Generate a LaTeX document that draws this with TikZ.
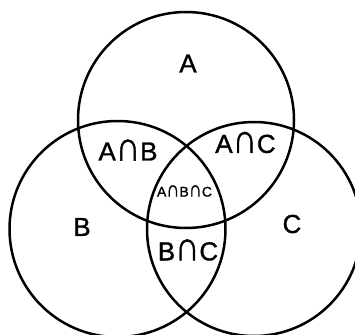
\documentclass[tikz,border=0pt]{standalone}
\usepackage{fontspec}
\setmainfont{Liberation Sans}
\newfontfamily\lblfont[FakeBold=1.2]{Liberation Sans}
\newcommand\vcap{\scalebox{1.3}[1.6]{∩}}
\begin{document}
\begin{tikzpicture}[x=1pt,y=-1pt,
  ring/.style={draw=black,line width=2.5pt},
  big/.style={font=\lblfont\fontsize{26}{26}\selectfont,inner sep=0pt},
  small/.style={font=\lblfont\fontsize{14}{14}\selectfont,inner sep=0pt}]
\useasboundingbox (0,0) rectangle (355,334);
\draw[ring] (186,120) circle[radius=108];
\draw[ring] (117.5,229) circle[radius=108];
\draw[ring] (254,229) circle[radius=107];
\node[big] (la) at (188,63.5) {A};
\node[big] (lab) at (128,150) {A\vcap B};
\node[big] (lac) at (245.5,142.5) {A\vcap C};
\node[small] (labc) at (184.5,191) {A\vcap B\vcap C};
\node[big] (lb) at (82,227) {B};
\node[big] (lbc) at (188,250) {B\vcap C};
\node[big] (lc) at (292,224) {C};
\end{tikzpicture}
\end{document}
